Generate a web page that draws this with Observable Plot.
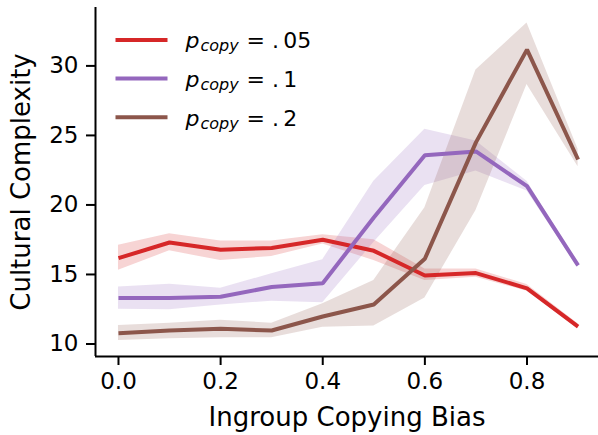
<!DOCTYPE html>
<html><head><meta charset="utf-8">
<script src="https://cdn.jsdelivr.net/npm/d3@7"></script>
<script src="https://cdn.jsdelivr.net/npm/@observablehq/plot@0.6"></script>
<style>html,body{margin:0;padding:0;background:#fff;} svg{display:block;}</style>
</head><body><div id="chart"></div>
<script>
// ---- data ----
const xs = [0, 0.1, 0.2, 0.3, 0.4, 0.5, 0.6, 0.7, 0.8, 0.9];
const seriesNames = ["p05", "p10", "p20"];
const legendValues = [".05", ".1", ".2"];
const seriesColors = ["#d62728", "#9467bd", "#8c564b"];

const mean05 = [16.17, 17.3, 16.78, 16.9, 17.5, 16.7, 14.93, 15.1, 14.0, 11.25];
const lo05   = [15.3, 16.7, 16.0, 16.3, 17.2, 16.0, 14.57, 14.8, 13.8, 11.1];
const hi05   = [17.1, 17.93, 17.4, 17.4, 17.86, 17.5, 15.4, 15.4, 14.28, 11.45];

const mean10 = [13.3, 13.3, 13.4, 14.1, 14.37, 19.1, 23.58, 23.85, 21.35, 15.65];
const lo10   = [12.5, 12.46, 12.8, 13.08, 12.96, 17.3, 21.4, 22.45, 21.0, 15.5];
const hi10   = [14.1, 14.3, 14.0, 15.05, 16.06, 21.7, 25.45, 24.6, 21.7, 15.8];

const mean20 = [10.78, 10.97, 11.09, 10.97, 11.98, 12.84, 16.13, 24.5, 31.17, 23.27];
const lo20   = [10.25, 10.37, 10.45, 10.45, 11.2, 11.3, 13.3, 19.6, 28.67, 22.75];
const hi20   = [11.33, 11.5, 11.7, 11.5, 12.9, 14.57, 19.8, 29.7, 33.08, 24.0];

const xTicks = [0, 0.2, 0.4, 0.6, 0.8];
const yTicks = [10, 15, 20, 25, 30];
const xLabel = "Ingroup Copying Bias";
const yLabel = "Cultural Complexity";

// ---- build table ----
const means = [mean05, mean10, mean20];
const los = [lo05, lo10, lo20];
const his = [hi05, hi10, hi20];
const rows = [];
seriesNames.forEach((s, k) => xs.forEach((x, i) => rows.push({series: s, x, mean: means[k][i], lo: los[k][i], hi: his[k][i]})));

const xDomain = [-0.045, 0.94];
const yDomain = [9.1, 34.2];

const lineSymbol = {draw(ctx) { ctx.moveTo(-26, 0); ctx.lineTo(26, 0); }};

const legendMarks = [];
seriesNames.forEach((s, k) => {
  const rowY = 32.5 + 38.6 * k;
  legendMarks.push(
    Plot.dot([s], {frameAnchor: "top-left", dx: 46, dy: rowY, symbol: lineSymbol, stroke: d => d, fill: "none", strokeWidth: 4}),
    Plot.text([s], {frameAnchor: "top-left", dx: 90, dy: rowY + 1.4, text: () => "p", fontSize: 22, fontStyle: "italic", textAnchor: "start", lineAnchor: "middle", fill: "black"}),
    Plot.text([s], {frameAnchor: "top-left", dx: 105, dy: rowY + 6.3, text: () => "copy", fontSize: 16, fontStyle: "italic", textAnchor: "start", lineAnchor: "middle", fill: "black"}),
    Plot.text([s], {frameAnchor: "top-left", dx: 151, dy: rowY + 1.4, text: () => "= ." + "\u2009" + legendValues[k].slice(1), fontSize: 22, textAnchor: "start", lineAnchor: "middle", fill: "black"})
  );
});

const chart = Plot.plot({
  width: 598,
  height: 435,
  marginLeft: 95,
  marginRight: 0,
  marginTop: 7,
  marginBottom: 79,
  style: {fontFamily: "DejaVu Sans", background: "#fff", color: "black"},
  x: {domain: xDomain},
  y: {domain: yDomain},
  color: {domain: seriesNames, range: seriesColors},
  marks: [
    Plot.areaY(rows, {x: "x", y1: "lo", y2: "hi", z: "series", fill: "series", fillOpacity: 0.2}),
    Plot.lineY(rows, {x: "x", y: "mean", z: "series", stroke: "series", strokeWidth: 4, strokeLinejoin: "miter", strokeLinecap: "butt"}),
    Plot.ruleX([xDomain[0]], {strokeWidth: 2}),
    Plot.ruleY([yDomain[0]], {strokeWidth: 2}),
    Plot.axisX(xTicks, {tickFormat: d => d.toFixed(1), fontSize: 23, tickSize: 9, tickPadding: 7, strokeWidth: 2, label: null}),
    Plot.axisY(yTicks, {tickFormat: d => String(d), fontSize: 23, tickSize: 9, tickPadding: 8, strokeWidth: 2, label: null}),
    Plot.text([xLabel], {frameAnchor: "bottom", dy: 61, text: d => d, fontSize: 26, textAnchor: "middle", lineAnchor: "middle", fill: "black"}),
    Plot.text([yLabel], {frameAnchor: "left", dx: -74, rotate: -90, text: d => d, fontSize: 26, textAnchor: "middle", lineAnchor: "middle", fill: "black"}),
    ...legendMarks
  ]
});
document.getElementById("chart").append(chart);
</script>
</body></html>
